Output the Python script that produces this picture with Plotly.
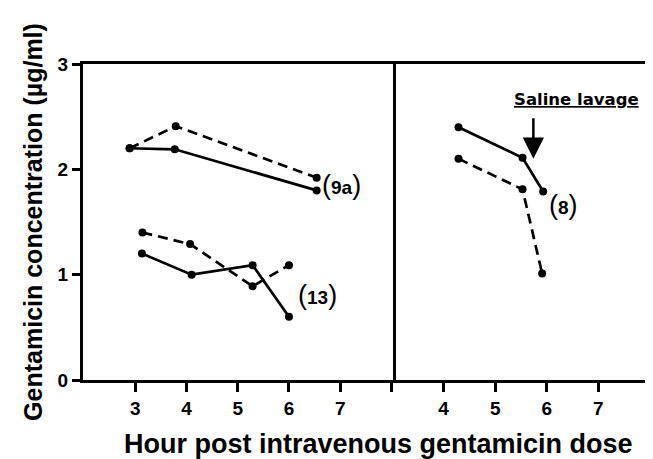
import plotly.graph_objects as go

# ---- data ----
x_9a_solid = [2.89, 3.77, 6.54]
y_9a_solid = [2.20, 2.19, 1.80]
x_9a_dash = [2.89, 3.79, 6.54]
y_9a_dash = [2.20, 2.41, 1.92]

x_13_solid = [3.13, 4.10, 5.29, 6.00]
y_13_solid = [1.20, 1.00, 1.09, 0.60]
x_13_dash = [3.14, 4.07, 5.29, 6.00]
y_13_dash = [1.40, 1.29, 0.89, 1.09]

x_8_solid = [4.29, 5.53, 5.93]
y_8_solid = [2.40, 2.11, 1.79]
x_8_dash = [4.29, 5.53, 5.91]
y_8_dash = [2.10, 1.81, 1.01]

left_ticks = [3, 4, 5, 6, 7]
right_ticks = [4, 5, 6, 7]
y_ticks = [0, 1, 2, 3]

lavage_x = 5.74
lavage_y_tip = 2.10
lavage_y_tail = 2.50

FONT = "Liberation Sans, Arial, sans-serif"
BLACK = "#000000"

fig = go.Figure()

def add(xs, ys, dash, xa, ya):
    fig.add_trace(go.Scatter(
        x=xs, y=ys, mode="lines+markers", xaxis=xa, yaxis=ya,
        line=dict(color=BLACK, width=2.7, dash=dash),
        marker=dict(color=BLACK, size=8),
        showlegend=False, hoverinfo="skip"))

add(x_9a_dash, y_9a_dash, "10px,6px", "x", "y")
add(x_9a_solid, y_9a_solid, "solid", "x", "y")
add(x_13_dash, y_13_dash, "10px,6px", "x", "y")
add(x_13_solid, y_13_solid, "solid", "x", "y")
add(x_8_dash, y_8_dash, "10px,6px", "x2", "y2")
add(x_8_solid, y_8_solid, "solid", "x2", "y2")

split = 310 / 567

axis_common = dict(showgrid=False, zeroline=False, showline=True, linecolor=BLACK,
                   linewidth=3, mirror=True, ticks="outside", ticklen=9,
                   tickwidth=3, tickcolor=BLACK,
                   tickfont=dict(family=FONT, size=19, color=BLACK, weight="bold"))

fig.update_layout(
    width=645, height=451,
    margin=dict(l=75, r=3, t=56, b=79),
    paper_bgcolor="white", plot_bgcolor="white",
    xaxis=dict(axis_common, domain=[0, split], range=[1.98, 8.03],
               tickvals=left_ticks + [8], ticktext=[str(t) for t in left_ticks] + [""],
               anchor="y"),
    xaxis2=dict(axis_common, domain=[split, 1], range=[3.02, 8.0],
                tickvals=right_ticks + [8], ticktext=[str(t) for t in right_ticks] + [""],
                anchor="y2"),
    yaxis=dict(axis_common, range=[0, 3], tickvals=y_ticks, ticklen=8, anchor="x",
               title=dict(text="Gentamicin concentration (µg/ml)",
                          font=dict(family=FONT, size=25, color=BLACK, weight="bold"),
                          standoff=8)),
    yaxis2=dict(axis_common, range=[0, 3], tickvals=y_ticks, ticks="",
                showticklabels=False, anchor="x2", side="right", mirror=False),
)

fig.add_annotation(
    text="Hour post intravenous gentamicin dose", xref="paper", yref="paper",
    x=(378 - 83) / 567, y=-(444 - 380) / 316, xanchor="center", yanchor="middle",
    showarrow=False, font=dict(family=FONT, size=27, color=BLACK, weight="bold"))

def label(txt, x, y, xa, ya):
    fig.add_annotation(
        text='<span style="font-size:27px;font-weight:normal">(</span>' + txt +
             '<span style="font-size:27px;font-weight:normal">)</span>',
        x=x, y=y, xref=xa, yref=ya, showarrow=False, xanchor="center", yanchor="middle",
        font=dict(family=FONT, size=19, color=BLACK, weight="bold"))

label("9a", 7.02, 1.85, "x", "y")
label("13", 6.55, 0.81, "x", "y")
label("8", 6.33, 1.66, "x2", "y2")

fig.add_annotation(
    text="<u>Saline lavage</u>", x=6.57, y=2.66, xref="x2", yref="y2",
    showarrow=False, xanchor="center", yanchor="middle",
    font=dict(family="DejaVu Sans, sans-serif", size=16.5, color=BLACK, weight="bold"))

fig.add_annotation(
    x=lavage_x, y=lavage_y_tip, ax=lavage_x, ay=lavage_y_tail,
    xref="x2", yref="y2", axref="x2", ayref="y2", text="",
    showarrow=True, arrowhead=2, arrowsize=1.7, arrowwidth=2.5, arrowcolor=BLACK)

fig.write_html("out.html")
